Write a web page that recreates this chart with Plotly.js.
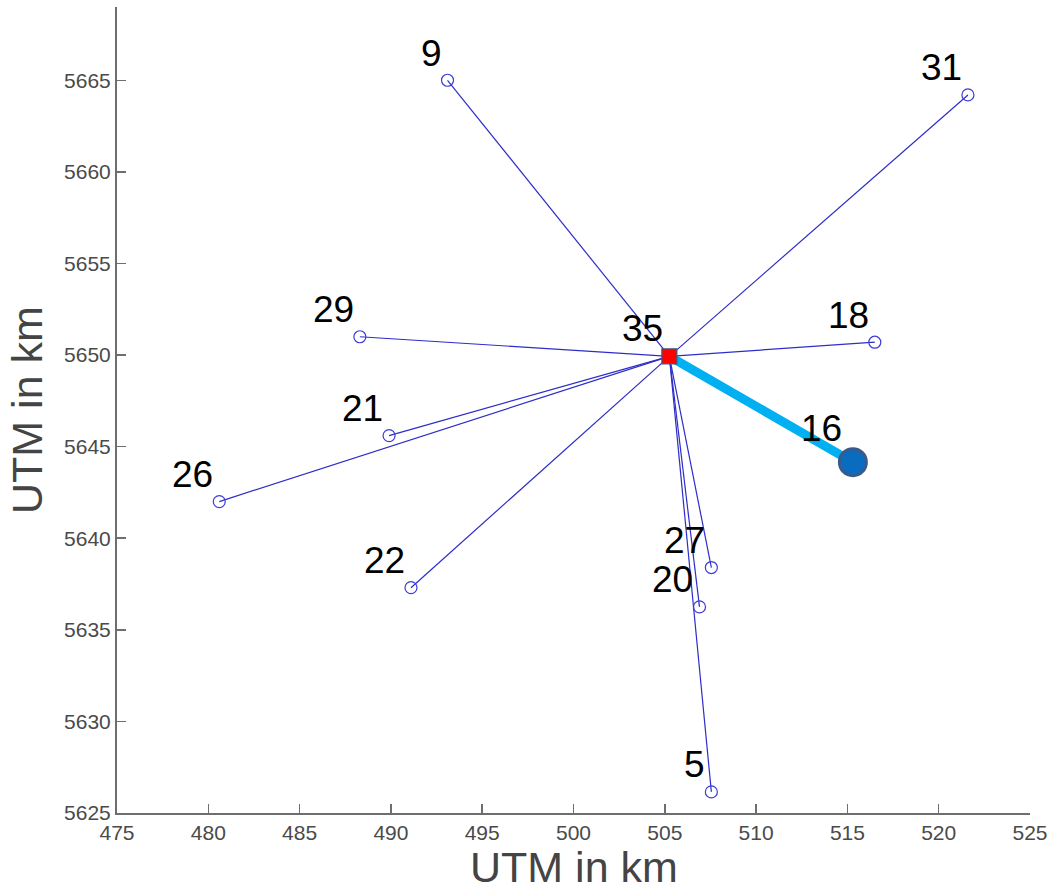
<!DOCTYPE html>
<html>
<head>
<meta charset="utf-8">
<script src="https://cdn.plot.ly/plotly-3.0.1.min.js"></script>
<style>html,body{margin:0;padding:0;background:#fff;}#chart{width:1049px;height:894px;}</style>
</head>
<body>
<div id="chart"></div>
<script>
// Station data (UTM km)
const stationLabels = ['9', '31', '29', '18', '21', '26', '22', '27', '20', '5'];
const stationX = [493.1, 521.6, 488.3, 516.5, 489.9, 480.6, 491.1, 507.55, 506.9, 507.55];
const stationY = [5665.0, 5664.2, 5651.0, 5650.7, 5645.6, 5642.0, 5637.3, 5638.4, 5636.25, 5626.15];

const centerLabel = '35';
const centerX = [505.25];
const centerY = [5649.93];

const highlightLabel = '16';
const highlightX = [515.3];
const highlightY = [5644.15];

const xTicks = [475, 480, 485, 490, 495, 500, 505, 510, 515, 520, 525];
const yTicks = [5625, 5630, 5635, 5640, 5645, 5650, 5655, 5660, 5665];
const xTitle = 'UTM in km';
const yTitle = 'UTM in km';

// Spokes from center to each station
const spokeX = [], spokeY = [];
for (let i = 0; i < stationX.length; i++) {
  spokeX.push(centerX[0], stationX[i], null);
  spokeY.push(centerY[0], stationY[i], null);
}

const traces = [
  {x: spokeX, y: spokeY, mode: 'lines', type: 'scatter',
   line: {color: 'rgb(45,45,200)', width: 1.2}, hoverinfo: 'skip'},
  {x: stationX, y: stationY, mode: 'markers', type: 'scatter',
   marker: {symbol: 'circle-open', size: 12, color: 'rgb(60,60,215)', line: {width: 1.2}}},
  {x: [centerX[0], highlightX[0]], y: [centerY[0], highlightY[0]], mode: 'lines', type: 'scatter',
   line: {color: '#00b0f0', width: 9}},
  {x: highlightX, y: highlightY, mode: 'markers', type: 'scatter',
   marker: {symbol: 'circle', size: 27, color: '#0a6cbf', line: {color: '#3b5a8a', width: 3}}},
  {x: centerX, y: centerY, mode: 'markers', type: 'scatter',
   marker: {symbol: 'square', size: 15, color: '#ff0000', line: {color: '#40587e', width: 1.2}}}
];

const labelFont = {family: 'Liberation Sans, Arial, sans-serif', size: 37, color: '#000'};
const annotations = [];
for (let i = 0; i < stationX.length; i++) {
  annotations.push({x: stationX[i], y: stationY[i], xref: 'x', yref: 'y', text: stationLabels[i],
    showarrow: false, xanchor: 'right', yanchor: 'middle', xshift: -4, yshift: 27, font: labelFont});
}
annotations.push({x: centerX[0], y: centerY[0], xref: 'x', yref: 'y', text: centerLabel,
  showarrow: false, xanchor: 'right', yanchor: 'middle', xshift: -4, yshift: 28, font: labelFont});
annotations.push({x: highlightX[0], y: highlightY[0], xref: 'x', yref: 'y', text: highlightLabel,
  showarrow: false, xanchor: 'right', yanchor: 'middle', xshift: -9, yshift: 34, font: labelFont});

const tickFont = {family: 'Liberation Sans, Arial, sans-serif', size: 21, color: '#4a4a4a'};
const titleFont = {family: 'Liberation Sans, Arial, sans-serif', size: 43, color: '#444'};

// Axis titles
annotations.push({x: 0.5, y: 0, xref: 'paper', yref: 'paper', text: xTitle, showarrow: false,
  xanchor: 'center', yanchor: 'bottom', yshift: -80, font: titleFont});
annotations.push({x: 0, y: 0.5, xref: 'paper', yref: 'paper', text: yTitle, showarrow: false,
  textangle: -90, xanchor: 'center', yanchor: 'middle', xshift: -90, font: titleFont});

const layout = {
  width: 1049, height: 894,
  margin: {l: 117, r: 19, t: 7, b: 81, pad: 0},
  paper_bgcolor: '#fff', plot_bgcolor: '#fff',
  showlegend: false,
  xaxis: {range: [475, 525], tickvals: xTicks, ticktext: xTicks.map(String),
    showgrid: false, zeroline: false, showline: true, linecolor: '#6e6e6e', linewidth: 2,
    ticks: 'inside', ticklen: 9, tickcolor: '#6e6e6e', tickwidth: 1.5, tickfont: tickFont,
    ticklabeloverflow: 'allow'},
  yaxis: {range: [5625, 5669], tickvals: yTicks, ticktext: yTicks.map(String),
    showgrid: false, zeroline: false, showline: true, linecolor: '#6e6e6e', linewidth: 2,
    ticks: 'inside', ticklen: 9, tickcolor: '#6e6e6e', tickwidth: 1.5, tickfont: tickFont,
    ticklabeloverflow: 'allow'},
  annotations: annotations
};

Plotly.newPlot('chart', traces, layout, {displayModeBar: false, staticPlot: true});
</script>
</body>
</html>
